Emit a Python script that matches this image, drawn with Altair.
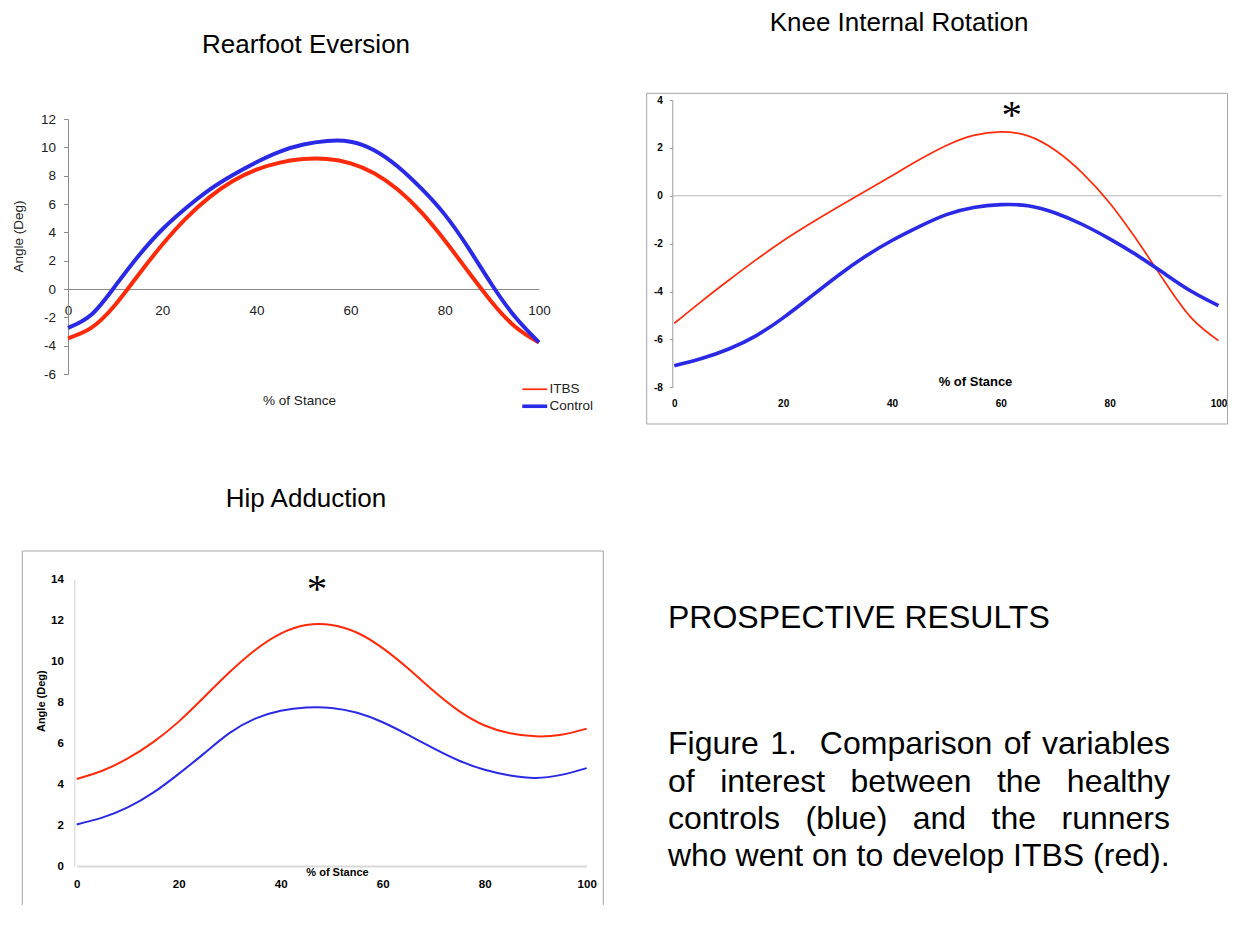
import altair as alt
import pandas as pd

FONT = "Liberation Sans"

# ---------------- data ----------------
stance = [0, 5, 10, 15, 20, 25, 30, 35, 40, 45, 50, 55, 60, 65, 70, 75, 80, 85, 90, 95, 100]
groups = ["ITBS", "Control"]

rearfoot_itbs = [-3.48, -2.73, -1.13, 1.02, 3.12, 4.97, 6.47, 7.62, 8.42, 8.92, 9.17, 9.17, 8.87, 8.17, 7.02, 5.42, 3.42, 1.22, -0.93, -2.68, -3.78]
rearfoot_ctrl = [-2.75, -1.8, 0.2, 2.35, 4.2, 5.7, 7.0, 8.05, 8.95, 9.7, 10.2, 10.45, 10.4, 9.8, 8.65, 7.1, 5.25, 2.9, 0.3, -2.0, -3.77]

knee_itbs = [-5.33, -4.41, -3.53, -2.68, -1.88, -1.16, -0.48, 0.18, 0.84, 1.5, 2.1, 2.52, 2.67, 2.5, 1.9, 0.95, -0.3, -1.85, -3.55, -5.1, -6.05]
knee_ctrl = [-7.1, -6.8, -6.4, -5.85, -5.1, -4.23, -3.35, -2.55, -1.87, -1.29, -0.79, -0.49, -0.37, -0.42, -0.72, -1.2, -1.8, -2.48, -3.24, -3.99, -4.59]

hip_itbs = [4.25, 4.65, 5.25, 6.05, 7.05, 8.25, 9.47, 10.55, 11.35, 11.77, 11.77, 11.39, 10.64, 9.64, 8.54, 7.56, 6.86, 6.48, 6.33, 6.41, 6.71]
hip_ctrl = [2.03, 2.36, 2.86, 3.58, 4.5, 5.5, 6.5, 7.2, 7.58, 7.74, 7.72, 7.48, 7.02, 6.4, 5.74, 5.14, 4.7, 4.42, 4.3, 4.45, 4.78]

panel_titles = ["Rearfoot Eversion", "Knee Internal Rotation", "Hip Adduction"]
heading = "PROSPECTIVE RESULTS"
caption_lines = [
    "Figure 1.  Comparison of variables",
    "of interest between the healthy",
    "controls (blue) and the runners",
    "who went on to develop ITBS (red).",
]

RED1, BLUE1 = "#ff2a0a", "#2a2ae6"
RED2, BLUE2 = "#ec2c10", "#1c34e2"
HYPHEN = "datum.value < 0 ? '-' + abs(datum.value) : '' + datum.value"


def long_df(itbs, ctrl):
    return pd.DataFrame({
        "stance": stance * 2,
        "angle": itbs + ctrl,
        "group": ["ITBS"] * len(stance) + ["Control"] * len(stance),
    })


def one():
    return pd.DataFrame({"k": [0]})


def box(x1, x2, y1, y2):
    return alt.Chart(one()).mark_rect(opacity=0).encode(
        x=alt.value(x1), x2=alt.value(x2), y=alt.value(y1), y2=alt.value(y2))


def label(text, x, y, size, weight="normal", align="center", font=FONT):
    return alt.Chart(pd.DataFrame({"t": [text]})).mark_text(
        align=align, baseline="alphabetic", fontSize=size, fontWeight=weight,
        font=font, color="black").encode(text="t:N", x=alt.value(x), y=alt.value(y))


def asterisk(x, y):
    return alt.Chart(pd.DataFrame({"stance": [x], "angle": [y], "t": ["*"]})).mark_text(
        font="Liberation Serif", fontSize=41, baseline="middle", align="center",
        color="black").encode(x="stance:Q", y="angle:Q", text="t:N")


ticks20 = list(range(0, 101, 20))

# Each cell's view covers its whole region; plots sit inside via scale ranges,
# axes are moved inward with negative offsets.

# ---------------- Cell A: Rearfoot Eversion (page origin 8,8) ----------------
WA, HA = 612, 447
lines_A = alt.Chart(long_df(rearfoot_itbs, rearfoot_ctrl)).mark_line(
    strokeWidth=4, interpolate="natural").encode(
    x=alt.X("stance:Q", scale=alt.Scale(domain=[0, 100], range=[60, 531], nice=False, zero=False),
            axis=alt.Axis(values=ticks20, offset=-166, grid=False, ticks=False, tickSize=0,
                          domainColor="#8c8c8c", labelFlush=False, labelPadding=21.7,
                          labelBaseline="middle", labelFontSize=13.5, labelColor="#222",
                          title="% of Stance", titleX=291, titleY=111, titleBaseline="middle",
                          titleFontSize=13.5, titleFontWeight="normal", titleColor="#222")),
    y=alt.Y("angle:Q", scale=alt.Scale(domain=[-6, 12], range=[366, 111], nice=False, zero=False),
            axis=alt.Axis(values=list(range(-6, 13, 2)), offset=-60, grid=False, tickSize=4.5,
                          tickColor="#8c8c8c", domainColor="#8c8c8c", labelPadding=8,
                          labelFontSize=13.5, labelColor="#222", labelExpr=HYPHEN,
                          title="Angle (Deg)", titleX=-49.3, titleY=228, titleBaseline="middle",
                          titleAlign="center", titleAngle=270, titleFontSize=13.5,
                          titleFontWeight="normal", titleColor="#222")),
    color=alt.Color("group:N", scale=alt.Scale(domain=groups, range=[RED1, BLUE1]),
                    legend=alt.Legend(title=None, orient="none", legendX=520, legendY=374.5,
                                      symbolType="M-3,0H3", symbolSize=69,
                                      symbolStrokeWidth=3, labelFontSize=13.5,
                                      labelOffset=8, labelColor="#222", padding=0,
                                      rowPadding=2)),
)
cellA = alt.layer(
    box(0, WA, 0, HA),
    lines_A,
    label(panel_titles[0], 298, 45.3, 26),
).properties(width=WA, height=HA)

# ---------------- Cell B: Knee Internal Rotation (page origin 630,8) ----------------
WB, HB = 598, 447
frameB = alt.Chart(one()).mark_rect(fillOpacity=0, stroke="#a6a6a6", strokeWidth=1).encode(
    x=alt.value(16.7), x2=alt.value(597.5), y=alt.value(85.3), y2=alt.value(416))
lines_B = alt.Chart(long_df(knee_itbs, knee_ctrl)).mark_line(interpolate="natural").encode(
    x=alt.X("stance:Q", scale=alt.Scale(domain=[0, 100], range=[44.3, 588.5], nice=False, zero=False),
            axis=alt.Axis(values=ticks20, offset=-67.7, domain=False, grid=False, ticks=False,
                          tickSize=0, labelFlush=False, labelPadding=16, labelBaseline="middle",
                          labelFontSize=10, labelFontWeight="bold", labelColor="black",
                          title="% of Stance", titleX=345, titleY=-6.3, titleBaseline="middle",
                          titleFontSize=13, titleFontWeight="bold", titleColor="black")),
    y=alt.Y("angle:Q", scale=alt.Scale(domain=[-8, 4], range=[379.3, 92], nice=False, zero=False),
            axis=alt.Axis(values=list(range(-8, 5, 2)), offset=-42.3, grid=False, tickSize=3,
                          tickColor="#9a9a9a", domainColor="#9a9a9a", labelPadding=7,
                          labelFontSize=10, labelFontWeight="bold", labelColor="black",
                          labelExpr=HYPHEN, title=None)),
    color=alt.Color("group:N", scale=alt.Scale(domain=groups, range=[RED2, BLUE2]), legend=None),
    strokeWidth=alt.StrokeWidth("group:N", scale=alt.Scale(domain=groups, range=[1.7, 3.6]),
                                legend=None),
)
zeroB = alt.Chart(one()).mark_rule(color="#b8b8b8", strokeWidth=1).encode(
    y=alt.datum(0), x=alt.value(42), x2=alt.value(592))
cellB = alt.layer(
    box(0, WB, 0, HB),
    frameB,
    zeroB,
    lines_B,
    asterisk(62, 3.33),
    label(panel_titles[1], 269, 22.5, 26),
).properties(width=WB, height=HB)

# ---------------- Cell C: Hip Adduction (page origin 8,465) ----------------
WC, HC = 612, 440
rule_kw = dict(color="#a6a6a6", strokeWidth=1)
frameC = [
    alt.Chart(one()).mark_rule(**rule_kw).encode(x=alt.value(14.3), y=alt.value(86), y2=alt.value(440)),
    alt.Chart(one()).mark_rule(**rule_kw).encode(x=alt.value(595.3), y=alt.value(86), y2=alt.value(440)),
    alt.Chart(one()).mark_rule(**rule_kw).encode(x=alt.value(14.3), x2=alt.value(595.3), y=alt.value(86)),
]
lines_C = alt.Chart(long_df(hip_itbs, hip_ctrl)).mark_line(strokeWidth=2, interpolate="natural").encode(
    x=alt.X("stance:Q", scale=alt.Scale(domain=[0, 100], range=[68.7, 578.7], nice=False, zero=False),
            axis=alt.Axis(values=ticks20, offset=-39, grid=False, ticks=False, tickSize=0,
                          domainColor="#d9d9d9", domainWidth=2, labelFlush=False, labelPadding=18,
                          labelBaseline="middle", labelFontSize=11.5, labelFontWeight="bold",
                          labelColor="black", title="% of Stance", titleX=329, titleY=6.7,
                          titleBaseline="middle", titleFontSize=11, titleFontWeight="bold",
                          titleColor="black")),
    y=alt.Y("angle:Q", scale=alt.Scale(domain=[0, 14], range=[401, 114.3], nice=False, zero=False),
            axis=alt.Axis(values=list(range(0, 15, 2)), offset=-66.3, grid=False, ticks=False,
                          tickSize=0, domainColor="#d0d0d0", labelPadding=11, labelFontSize=11.5,
                          labelFontWeight="bold", labelColor="black", title="Angle (Deg)",
                          titleX=-33.3, titleY=235.7, titleBaseline="middle", titleAlign="center",
                          titleAngle=270, titleFontSize=11, titleFontWeight="bold",
                          titleColor="black")),
    color=alt.Color("group:N", scale=alt.Scale(domain=groups, range=[RED2, BLUE2]), legend=None),
)
cellC = alt.layer(
    box(0, WC, 0, HC),
    *frameC,
    lines_C,
    asterisk(47.1, 13.49),
    label(panel_titles[2], 298, 41.7, 26),
).properties(width=WC, height=HC)

# ---------------- Cell D: caption text (page origin 630,465) ----------------
ARIAL = {' ': 278, 'a': 556, 'b': 556, 'c': 500, 'd': 556, 'e': 556, 'f': 278, 'g': 556,
         'h': 556, 'i': 222, 'l': 222, 'm': 833, 'n': 556, 'o': 556, 'p': 556, 'r': 333,
         's': 500, 't': 278, 'u': 556, 'v': 500, 'w': 722, 'y': 500, 'F': 611, 'C': 722,
         'I': 278, 'T': 611, 'B': 667, 'S': 667, '1': 556, '.': 278, '(': 333, ')': 333}
FS = 32
LEFT, WIDTH = 38, 502
baselines = [289, 326.5, 363.5, 400.5]


def tw(s):
    return sum(ARIAL.get(ch, 556) for ch in s) * FS / 1000.0


rows = []
for i, line in enumerate(caption_lines):
    tokens = line.split(" ")
    words = [t for t in tokens if t]
    n_sp = len(tokens) - 1
    if i < len(caption_lines) - 1:
        sp = (WIDTH - sum(tw(w) for w in words)) / n_sp
    else:
        sp = ARIAL[' '] * FS / 1000.0
    cur = LEFT
    for j, t in enumerate(tokens):
        if t:
            rows.append({"word": t, "px": cur, "py": baselines[i]})
            cur += tw(t)
        if j < len(tokens) - 1:
            cur += sp
words_df = pd.DataFrame(rows)

caption = alt.Chart(words_df).mark_text(
    align="left", baseline="alphabetic", fontSize=FS, font=FONT, color="black").encode(
    x=alt.X("px:Q", scale=None, axis=None),
    y=alt.Y("py:Q", scale=None, axis=None),
    text="word:N")

WD, HD = 598, 440
cellD = alt.layer(
    box(0, WD, 0, HD),
    label(heading, LEFT, 163, 32, align="left"),
    caption,
).properties(width=WD, height=HD)

row1 = alt.hconcat(cellA, cellB, spacing=10)
row2 = alt.hconcat(cellC, cellD, spacing=10)

chart = alt.vconcat(row1, row2, spacing=10).properties(padding=0).configure(
    font=FONT).configure_view(stroke=None)

chart.save("out.html", embed_options={"renderer": "svg", "actions": False})
